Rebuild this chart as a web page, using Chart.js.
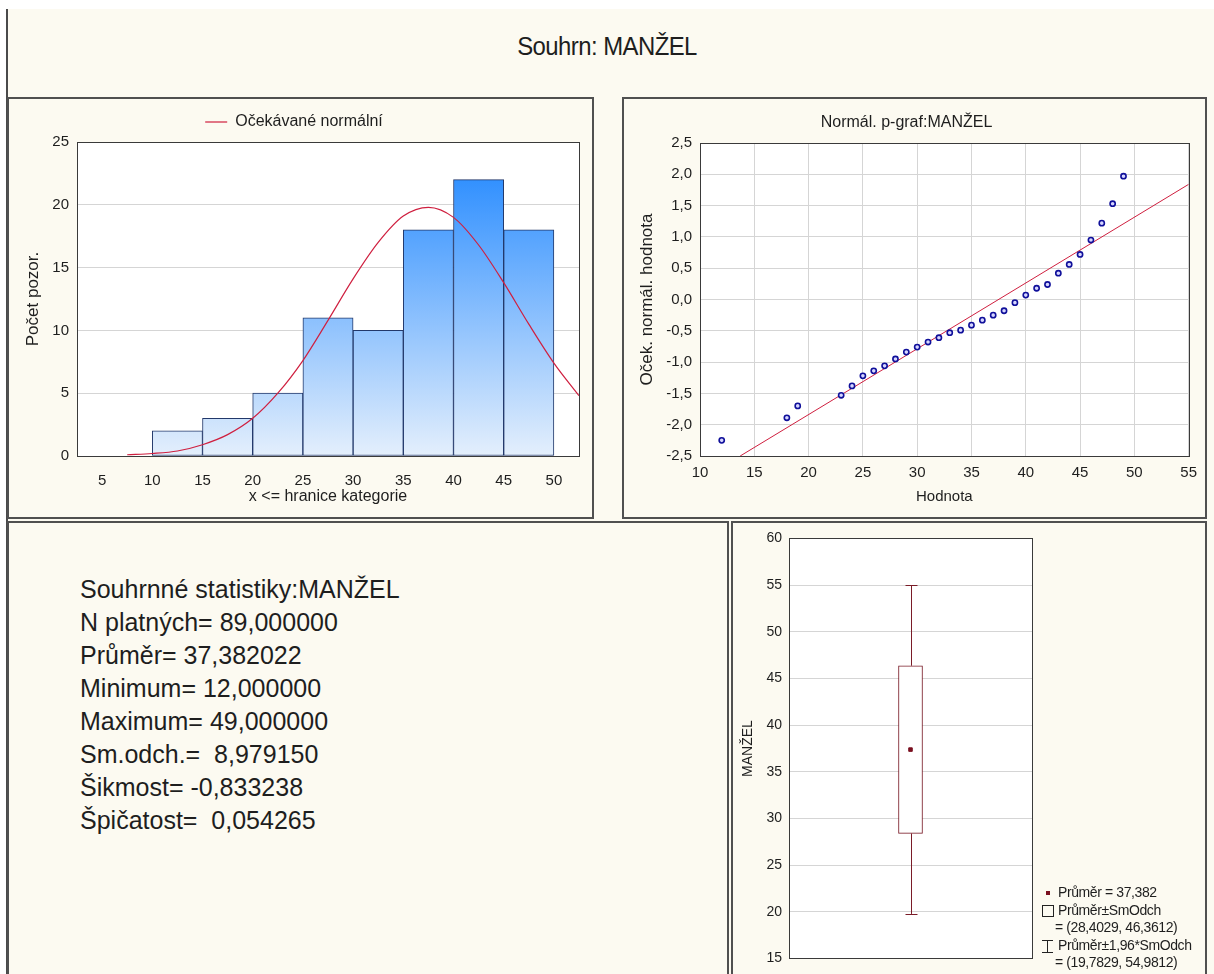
<!DOCTYPE html>
<html lang="cs">
<head>
<meta charset="utf-8">
<title>Souhrn: MANŽEL</title>
<script src="https://cdn.jsdelivr.net/npm/chart.js@4.4.1/dist/chart.umd.min.js"></script>
<style>
  body { margin: 0; width: 1214px; height: 974px; background: #fff; position: relative; overflow: hidden;
         font-family: "Liberation Sans", Arial, sans-serif; color: #1e1e1e; }
  #ram { position: absolute; left: 6px; top: 9px; width: 1208px; height: 965px; background: #fcfaf1;
         border-left: 2px solid #4a4a4a; box-sizing: border-box; }
  #nadpis { position: absolute; left: 0; width: 1214px; top: 31px; line-height: 30px; text-align: center;
            font-size: 26px; letter-spacing: -0.6px; transform: scaleX(0.92); }
  .panel { position: absolute; border: 2px solid #505050; box-sizing: border-box; background: #fcfaf1; overflow: hidden; }
  .panel canvas { position: absolute; left: 0; top: 0; }
  #statistiky { position: absolute; left: 80px; top: 573px; font-size: 25px; line-height: 33px; }
  #legendaKrabice { position: absolute; left: 1042px; top: 884px; font-size: 14px; line-height: 17.5px; letter-spacing: -0.4px; }
  #legendaKrabice .radek { position: relative; padding-left: 16px; white-space: nowrap; }
  #legendaKrabice .odsazeni { padding-left: 13px; }
  .znacka { position: absolute; left: 0; top: 3px; box-sizing: border-box; }
  .bod { left: 4px; top: 7px; width: 4px; height: 4px; background: #7a1020; }
  .ctverec { width: 12px; height: 12px; border: 1px solid #222; }
  .usecka { width: 11px; height: 13px; border-top: 1px solid #222; border-bottom: 1px solid #222; }
  .usecka::after { content: ""; position: absolute; left: 5px; top: 0; width: 1px; height: 11px; background: #222; }
</style>
</head>
<body>
<div id="ram"></div>
<div id="nadpis">Souhrn: MANŽEL</div>

<div class="panel" style="left:7px; top:97px; width:587px; height:422px;">
  <canvas id="histogram" width="583" height="418"></canvas>
</div>
<div class="panel" style="left:622px; top:97px; width:585px; height:422px;">
  <canvas id="pgraf" width="581" height="418"></canvas>
</div>
<div class="panel" style="left:7px; top:521px; width:722px; height:460px;"></div>
<div class="panel" style="left:731px; top:521px; width:476px; height:460px;">
  <canvas id="krabice" width="472" height="451"></canvas>
</div>

<div id="statistiky">
  <div>Souhrnné statistiky:MANŽEL</div>
  <div>N platných= 89,000000</div>
  <div>Průměr= 37,382022</div>
  <div>Minimum= 12,000000</div>
  <div>Maximum= 49,000000</div>
  <div>Sm.odch.=&nbsp; 8,979150</div>
  <div>Šikmost= -0,833238</div>
  <div>Špičatost=&nbsp; 0,054265</div>
</div>

<div id="legendaKrabice"></div>

<script>
// histogram: horni meze trid (x <= hranice) a pocty pozorovani
const sirkaTridy = 5;
const horniMeze = [15, 20, 25, 30, 35, 40, 45, 50];
const pocty = [2, 3, 5, 11, 10, 18, 22, 18];
const hraniceOsaX = [5, 10, 15, 20, 25, 30, 35, 40, 45, 50];

// ocekavana normalni krivka
const krivkaX = [7.5, 10, 12.5, 15, 17.5, 20, 22.5, 25, 27.5, 30, 32.5, 35, 37.5, 40, 42.5, 45, 47.5, 50, 52.5];
const krivkaY = [0.1, 0.2, 0.4, 0.9, 1.7, 3.0, 5.0, 7.6, 10.8, 14.1, 17.0, 19.1, 19.8, 19.0, 16.8, 13.8, 10.5, 7.4, 4.8];

// normalni p-graf
const hodnoty = [12, 18, 19, 23, 24, 25, 26, 27, 28, 29, 30, 31, 32, 33, 34, 35, 36, 37, 38, 39, 40, 41, 42, 43, 44, 45, 46, 47, 48, 49];
const ocekavane = [-2.25, -1.89, -1.70, -1.53, -1.38, -1.22, -1.14, -1.06, -0.95, -0.84, -0.76, -0.68, -0.61,
                   -0.53, -0.49, -0.41, -0.33, -0.25, -0.18, -0.05, 0.07, 0.18, 0.24, 0.42, 0.56, 0.72, 0.95, 1.22, 1.53, 1.97];
const primkaX = [13.7, 55];
const primkaY = [-2.5, 1.84];

// krabicovy graf
const prumer = 37.382;
const smOdchMeze = [28.4029, 46.3612];
const meze196 = [19.7829, 54.9812];

const cisloCZ = (v, d) => v.toFixed(d).replace('.', ',');

Chart.defaults.font.family = '"Liberation Sans", Arial, sans-serif';
Chart.defaults.font.size = 15;
Chart.defaults.color = '#1e1e1e';

// bily podklad a ramecek kolem plochy grafu
const podkladGrafu = {
    id: 'podkladGrafu',
    beforeDraw(chart) {
        const {ctx, chartArea: a} = chart;
        ctx.save();
        ctx.fillStyle = '#ffffff';
        ctx.fillRect(a.left, a.top, a.right - a.left, a.bottom - a.top);
        ctx.restore();
    },
    afterDraw(chart) {
        const {ctx, chartArea: a} = chart;
        ctx.save();
        ctx.strokeStyle = '#3a3a3a';
        ctx.lineWidth = 1;
        ctx.strokeRect(Math.round(a.left) + 0.5, Math.round(a.top) + 0.5, Math.round(a.right - a.left), Math.round(a.bottom - a.top));
        ctx.restore();
    }
};

function vyskaLegendy(h) {
    return {
        id: 'vyskaLegendy',
        beforeInit(chart) {
            const fit = chart.legend.fit;
            chart.legend.fit = function () {
                fit.call(this);
                this.height = h;
            };
        }
    };
}

function modryPrechod(context) {
    const {ctx, chartArea} = context.chart;
    if (!chartArea) return '#6fb0f5';
    const g = ctx.createLinearGradient(0, chartArea.top, 0, chartArea.bottom);
    g.addColorStop(0, '#1a84ff');
    g.addColorStop(1, '#e4effc');
    return g;
}

// --- histogram ---
new Chart(document.getElementById('histogram'), {
    type: 'bar',
    data: {
        datasets: [
            {
                type: 'line',
                label: 'Očekávané normální',
                data: krivkaX.map((x, i) => ({x: x, y: krivkaY[i]})),
                borderColor: '#cf1f3f',
                backgroundColor: '#cf1f3f',
                borderWidth: 1.2,
                pointRadius: 0,
                cubicInterpolationMode: 'monotone',
                order: 0
            },
            {
                label: 'Počet pozor.',
                data: horniMeze.map((h, i) => ({x: h - sirkaTridy / 2, y: pocty[i]})),
                backgroundColor: modryPrechod,
                borderColor: '#22386a',
                borderWidth: 1,
                borderSkipped: false,
                barPercentage: 1,
                categoryPercentage: 1,
                order: 1
            }
        ]
    },
    options: {
        responsive: false,
        animation: false,
        devicePixelRatio: 1,
        layout: {padding: {left: 0, right: 13, top: 0, bottom: 0}},
        plugins: {
            legend: {
                labels: {
                    filter: item => item.datasetIndex === 0,
                    usePointStyle: true,
                    pointStyle: 'line',
                    pointStyleWidth: 22,
                    padding: 15,
                    font: {size: 16}
                }
            },
            tooltip: {enabled: false}
        },
        scales: {
            x: {
                type: 'linear',
                min: 2.5,
                max: 52.5,
                offset: false,
                grid: {display: false, offset: false},
                border: {display: false},
                afterBuildTicks: s => { s.ticks = hraniceOsaX.map(v => ({value: v})); },
                ticks: {padding: 8},
                title: {display: true, text: 'x <= hranice kategorie', font: {size: 16}, padding: {top: 0, bottom: 11}},
                afterFit: s => { s.height = 61; }
            },
            y: {
                min: 0,
                max: 25,
                ticks: {stepSize: 5, padding: 8},
                grid: {color: '#d5d5d5', drawTicks: false},
                border: {display: false},
                title: {display: true, text: 'Počet pozor.', font: {size: 17}, padding: {top: 14, bottom: 0}},
                afterFit: s => { s.width = 68; }
            }
        }
    },
    plugins: [podkladGrafu, vyskaLegendy(43)]
});

// --- normalni p-graf ---
new Chart(document.getElementById('pgraf'), {
    type: 'scatter',
    data: {
        datasets: [
            {
                type: 'line',
                label: 'primka',
                data: primkaX.map((x, i) => ({x: x, y: primkaY[i]})),
                borderColor: '#cf1f3f',
                borderWidth: 1,
                pointRadius: 0,
                order: 1
            },
            {
                label: 'MANŽEL',
                data: hodnoty.map((x, i) => ({x: x, y: ocekavane[i]})),
                pointRadius: 2.6,
                borderWidth: 1.6,
                borderColor: '#10109a',
                backgroundColor: '#d6d6ff',
                order: 0
            }
        ]
    },
    options: {
        responsive: false,
        animation: false,
        devicePixelRatio: 1,
        layout: {padding: {left: 0, right: 16, top: 0, bottom: 0}},
        plugins: {
            legend: {display: false},
            tooltip: {enabled: false},
            title: {
                display: true,
                text: 'Normál. p-graf:MANŽEL',
                color: '#1e1e1e',
                font: {size: 16, weight: 'normal'},
                padding: {top: 14.4, bottom: 10.4}
            }
        },
        scales: {
            x: {
                min: 10,
                max: 55,
                ticks: {stepSize: 5, padding: 8},
                grid: {color: '#d5d5d5', drawTicks: false},
                border: {display: false},
                title: {display: true, text: 'Hodnota', padding: {top: 0, bottom: 11}},
                afterFit: s => { s.height = 61; }
            },
            y: {
                min: -2.5,
                max: 2.5,
                ticks: {stepSize: 0.5, padding: 8, callback: v => cisloCZ(v, 1)},
                grid: {color: '#d5d5d5', drawTicks: false},
                border: {display: false},
                title: {display: true, text: 'Oček. normál. hodnota', font: {size: 17}, padding: {top: 13, bottom: 0}},
                afterFit: s => { s.width = 76; }
            }
        }
    },
    plugins: [podkladGrafu]
});

// --- krabicovy graf ---
const vousky = {
    id: 'vousky',
    afterDatasetsDraw(chart) {
        const {ctx, scales: {x, y}} = chart;
        const cx = Math.round(x.getPixelForValue(0)) + 0.5;
        ctx.save();
        ctx.strokeStyle = '#7a1c28';
        ctx.lineWidth = 1;
        ctx.beginPath();
        [[meze196[0], smOdchMeze[0]], [smOdchMeze[1], meze196[1]]].forEach(([a, b]) => {
            ctx.moveTo(cx, y.getPixelForValue(a));
            ctx.lineTo(cx, y.getPixelForValue(b));
        });
        meze196.forEach(v => {
            const py = Math.round(y.getPixelForValue(v)) + 0.5;
            ctx.moveTo(cx - 6, py);
            ctx.lineTo(cx + 6, py);
        });
        ctx.stroke();
        ctx.restore();
    }
};

new Chart(document.getElementById('krabice'), {
    type: 'bar',
    data: {
        labels: ['MANŽEL'],
        datasets: [
            {
                label: 'Průměr±SmOdch',
                data: [smOdchMeze],
                backgroundColor: '#ffffff',
                borderColor: '#7a1c28',
                borderWidth: 1,
                borderSkipped: false,
                barThickness: 24,
                order: 1
            },
            {
                type: 'line',
                label: 'Průměr',
                data: [prumer],
                showLine: false,
                pointStyle: 'rect',
                pointRadius: 2.5,
                backgroundColor: '#7a1020',
                borderColor: '#7a1020',
                order: 0
            }
        ]
    },
    options: {
        responsive: false,
        animation: false,
        devicePixelRatio: 1,
        layout: {padding: {left: 0, right: 173, top: 14, bottom: 0}},
        plugins: {legend: {display: false}, tooltip: {enabled: false}},
        scales: {
            x: {
                grid: {display: false},
                ticks: {display: false},
                border: {display: false},
                afterFit: s => { s.height = 12; }
            },
            y: {
                min: 15,
                max: 60,
                ticks: {stepSize: 5, padding: 7, font: {size: 14}},
                grid: {color: '#d5d5d5', drawTicks: false},
                border: {display: false},
                title: {display: true, text: 'MANŽEL', font: {size: 14}, padding: {top: 7, bottom: 0}},
                afterFit: s => { s.width = 56; }
            }
        }
    },
    plugins: [podkladGrafu, vousky]
});

// legenda krabicoveho grafu
document.getElementById('legendaKrabice').innerHTML =
    '<div class="radek"><span class="znacka bod"></span>Průměr = ' + cisloCZ(prumer, 3) + '</div>' +
    '<div class="radek"><span class="znacka ctverec"></span>Průměr±SmOdch</div>' +
    '<div class="radek odsazeni">= (' + cisloCZ(smOdchMeze[0], 4) + ', ' + cisloCZ(smOdchMeze[1], 4) + ')</div>' +
    '<div class="radek"><span class="znacka usecka"></span>Průměr±1,96*SmOdch</div>' +
    '<div class="radek odsazeni">= (' + cisloCZ(meze196[0], 4) + ', ' + cisloCZ(meze196[1], 4) + ')</div>';
</script>
</body>
</html>
